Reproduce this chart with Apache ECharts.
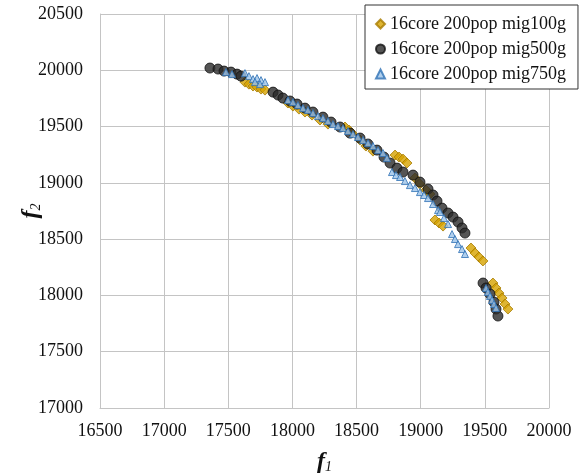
<!DOCTYPE html>
<html>
<head>
<meta charset="utf-8">
<script src="https://cdn.jsdelivr.net/npm/echarts@6/dist/echarts.min.js"></script>
<style>
  html, body { margin: 0; padding: 0; background: #fff; }
  #chart { width: 584px; height: 474px; }
</style>
</head>
<body>
<div id="chart"></div>
<script>
// Pareto fronts (f1, f2) for three migration intervals
const seriesNames = ['16core 200pop mig100g', '16core 200pop mig500g', '16core 200pop mig750g'];

const mig100g = [
  [17630,19895],[17661,19877],[17693,19860],[17724,19851],[17755,19833],[17786,19824],
  [17965,19709],[18004,19682],[18051,19655],[18098,19629],[18153,19602],[18215,19558],
  [18277,19522],[18410,19496],[18441,19469],[18464,19442],[18527,19380],[18573,19327],
  [18628,19282],[18800,19247],[18831,19229],[18862,19211],[18893,19176],[18955,19043],
  [18994,18989],[19041,18936],[19072,18901],[19111,18670],[19143,18643],[19174,18616],
  [19392,18421],[19423,18377],[19454,18341],[19485,18306],[19563,18110],[19587,18066],
  [19610,18021],[19634,17977],[19657,17924],[19680,17879]
];

const mig500g = [
  [17357,20020],[17420,20011],[17467,19993],[17521,19984],[17568,19966],[17599,19948],
  [17849,19806],[17888,19780],[17926,19753],[17981,19727],[18036,19700],[18098,19664],
  [18160,19629],[18238,19584],[18301,19540],[18371,19496],[18449,19442],[18527,19398],
  [18589,19345],[18659,19291],[18714,19229],[18761,19176],[18815,19131],[18862,19096],
  [18940,19069],[18994,19007],[19057,18945],[19096,18892],[19127,18838],[19166,18776],
  [19213,18732],[19252,18696],[19291,18652],[19322,18599],[19345,18554],[19486,18110],
  [19509,18066],[19540,18012],[19571,17941],[19587,17879],[19602,17817]
];

const mig750g = [
  [17482,19984],[17529,19966],[17630,19975],[17661,19948],[17693,19922],[17724,19931],
  [17755,19913],[17786,19895],[17708,19895],[17747,19877],[17965,19735],[18004,19718],
  [18043,19691],[18082,19664],[18121,19647],[18160,19620],[18199,19593],[18238,19575],
  [18277,19549],[18316,19522],[18355,19504],[18394,19487],[18433,19460],[18472,19433],
  [18511,19407],[18550,19380],[18589,19353],[18628,19327],[18667,19291],[18706,19265],
  [18737,19220],[18776,19096],[18807,19069],[18839,19052],[18877,19016],[18916,18980],
  [18955,18954],[18994,18918],[19026,18892],[19057,18865],[19096,18812],[19135,18758],
  [19150,18741],[19181,18687],[19213,18634],[19244,18545],[19267,18501],[19291,18456],
  [19322,18412],[19345,18368],[19509,18066],[19524,18030],[19540,17995],[19556,17959],
  [19571,17924],[19587,17888]
];

const xMin = 16500, xMax = 20000, xStep = 500;
const yMin = 17000, yMax = 20500, yStep = 500;

const serif = '"Liberation Serif", "Times New Roman", serif';
const gridColor = '#c4c4c4';
const textColor = '#111111';
const plainNumber = v => String(v);

// italic "f" with a small subscript index
const nameRich = {
  f: { fontFamily: serif, fontSize: 24, fontStyle: 'italic', fontWeight: 'bold', color: textColor },
  s: { fontFamily: serif, fontSize: 14, fontStyle: 'italic', color: textColor, padding: [10, 0, 0, 0] }
};

const chart = echarts.init(document.getElementById('chart'), null, { renderer: 'canvas' });

chart.setOption({
  backgroundColor: '#ffffff',
  animation: false,
  grid: { left: 100, right: 35, top: 14, bottom: 66, containLabel: false, outerBoundsMode: 'none' },
  xAxis: {
    type: 'value', min: xMin, max: xMax, interval: xStep,
    axisLine: { show: true, lineStyle: { color: gridColor, width: 1 } },
    axisTick: { show: false },
    splitLine: { show: true, lineStyle: { color: gridColor, width: 1 } },
    axisLabel: { color: textColor, fontFamily: serif, fontSize: 18, margin: 14, formatter: plainNumber },
    name: '{f|f}{s|1}',
    nameLocation: 'middle',
    nameGap: 42,
    nameMoveOverlap: false,
    nameTextStyle: { rich: nameRich }
  },
  yAxis: {
    type: 'value', min: yMin, max: yMax, interval: yStep,
    axisLine: { show: true, lineStyle: { color: gridColor, width: 1 } },
    axisTick: { show: false },
    splitLine: { show: true, lineStyle: { color: gridColor, width: 1 } },
    axisLabel: { color: textColor, fontFamily: serif, fontSize: 18, margin: 17, formatter: plainNumber },
    name: '{f|f}{s|2}',
    nameLocation: 'middle',
    nameRotate: 90,
    nameGap: 57,
    nameMoveOverlap: false,
    nameTextStyle: { rich: nameRich }
  },
  legend: {
    orient: 'vertical',
    left: 365, top: 5,
    padding: [10, 12, 6, 10],
    itemGap: 7,
    itemWidth: 9, itemHeight: 9,
    backgroundColor: '#ffffff',
    borderColor: '#333',
    borderWidth: 1,
    textStyle: { fontFamily: serif, fontSize: 18, color: textColor, lineHeight: 18 },
    data: seriesNames
  },
  series: [
    {
      name: seriesNames[0], type: 'scatter', data: mig100g,
      symbol: 'diamond', symbolSize: 10,
      itemStyle: { color: '#d6a200', borderColor: '#a87c00', borderWidth: 1 }
    },
    {
      name: seriesNames[1], type: 'scatter', data: mig500g,
      symbol: 'circle', symbolSize: 10,
      itemStyle: { color: '#2b2b2b', borderColor: '#111', borderWidth: 1 }
    },
    {
      name: seriesNames[2], type: 'scatter', data: mig750g,
      symbol: 'triangle', symbolSize: 7,
      itemStyle: { color: '#9cc3e8', borderColor: '#2f72b5', borderWidth: 1 }
    }
  ]
});
</script>
</body>
</html>
